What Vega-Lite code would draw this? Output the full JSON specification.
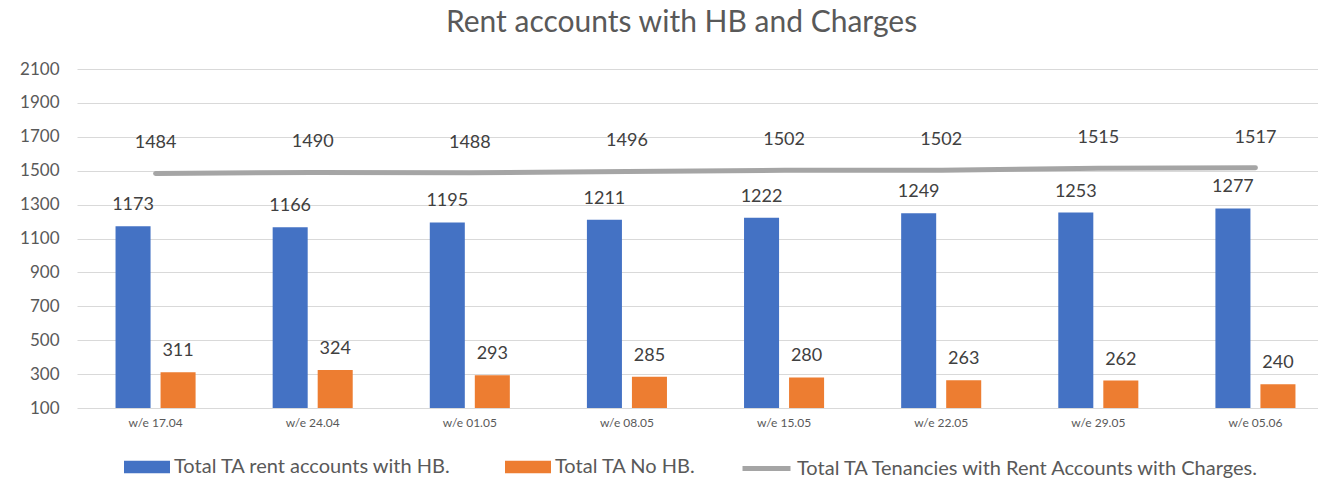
{
  "$schema": "https://vega.github.io/schema/vega-lite/v6.json",
  "width": 1241,
  "height": 339,
  "autosize": {"type": "none"},
  "padding": {"left": 77, "top": 69, "right": 0, "bottom": 72},
  "title": {"text": "Rent accounts with HB and Charges", "fontSize": 30, "font": "Lato", "fontWeight": "normal", "color": "#595959", "anchor": "middle", "dx": -16, "offset": -8, "baseline": "bottom"},
  "config": {"font": "Lato", "view": {"stroke": null}},
  "data": {"values": [
    {"week": "w/e 17.04", "series": "Total TA rent accounts  with HB.", "value": 1173},
    {"week": "w/e 24.04", "series": "Total TA rent accounts  with HB.", "value": 1166},
    {"week": "w/e 01.05", "series": "Total TA rent accounts  with HB.", "value": 1195},
    {"week": "w/e 08.05", "series": "Total TA rent accounts  with HB.", "value": 1211},
    {"week": "w/e 15.05", "series": "Total TA rent accounts  with HB.", "value": 1222},
    {"week": "w/e 22.05", "series": "Total TA rent accounts  with HB.", "value": 1249},
    {"week": "w/e 29.05", "series": "Total TA rent accounts  with HB.", "value": 1253},
    {"week": "w/e 05.06", "series": "Total TA rent accounts  with HB.", "value": 1277},
    {"week": "w/e 17.04", "series": "Total TA No HB.", "value": 311},
    {"week": "w/e 24.04", "series": "Total TA No HB.", "value": 324},
    {"week": "w/e 01.05", "series": "Total TA No HB.", "value": 293},
    {"week": "w/e 08.05", "series": "Total TA No HB.", "value": 285},
    {"week": "w/e 15.05", "series": "Total TA No HB.", "value": 280},
    {"week": "w/e 22.05", "series": "Total TA No HB.", "value": 263},
    {"week": "w/e 29.05", "series": "Total TA No HB.", "value": 262},
    {"week": "w/e 05.06", "series": "Total TA No HB.", "value": 240},
    {"week": "w/e 17.04", "series": "Total TA Tenancies with Rent Accounts with Charges.", "value": 1484},
    {"week": "w/e 24.04", "series": "Total TA Tenancies with Rent Accounts with Charges.", "value": 1490},
    {"week": "w/e 01.05", "series": "Total TA Tenancies with Rent Accounts with Charges.", "value": 1488},
    {"week": "w/e 08.05", "series": "Total TA Tenancies with Rent Accounts with Charges.", "value": 1496},
    {"week": "w/e 15.05", "series": "Total TA Tenancies with Rent Accounts with Charges.", "value": 1502},
    {"week": "w/e 22.05", "series": "Total TA Tenancies with Rent Accounts with Charges.", "value": 1502},
    {"week": "w/e 29.05", "series": "Total TA Tenancies with Rent Accounts with Charges.", "value": 1515},
    {"week": "w/e 05.06", "series": "Total TA Tenancies with Rent Accounts with Charges.", "value": 1517}
  ]},
  "encoding": {
    "x": {"field": "week", "type": "nominal", "sort": null,
      "scale": {"range": [0, 1257], "paddingInner": 0, "paddingOuter": 0},
      "axis": {"title": null, "domain": false, "ticks": false, "labelAngle": 0, "labelFontSize": 12, "labelColor": "#595959", "labelPadding": 9, "labelFont": "Lato"}},
    "y": {"field": "value", "type": "quantitative",
      "scale": {"domain": [100, 2100], "zero": false, "nice": false},
      "axis": {"title": null, "format": "d", "values": [100, 300, 500, 700, 900, 1100, 1300, 1500, 1700, 1900, 2100], "domain": false, "ticks": false, "labelFontSize": 17, "labelColor": "#595959", "labelPadding": 18, "gridColor": "#D9D9D9", "labelFont": "Lato"}}
  },
  "layer": [
    {
      "transform": [{"filter": "datum.series !== 'Total TA Tenancies with Rent Accounts with Charges.'"}],
      "encoding": {
        "xOffset": {"field": "series", "type": "nominal", "sort": null,
          "scale": {"domain": ["Total TA rent accounts  with HB.", "Total TA No HB."], "paddingInner": 0.222, "paddingOuter": 0.856}}
      },
      "layer": [
        {"mark": {"type": "bar"},
         "encoding": {
           "y2": {"datum": 100},
           "fill": {"field": "series", "type": "nominal",
           "scale": {"domain": ["Total TA rent accounts  with HB.", "Total TA No HB."], "range": ["#4472C4", "#ED7D31"]},
           "legend": {"title": null, "orient": "none", "legendX": 47, "legendY": 375, "direction": "horizontal", "symbolType": "M-1,-0.27H1V0.27H-1Z", "symbolSize": 2116, "symbolStrokeWidth": 0, "labelFontSize": 20, "labelColor": "#595959", "labelFont": "Lato", "labelLimit": 0, "columnPadding": 48, "labelOffset": 4}}}},
        {"mark": {"type": "text", "dy": -21, "fontSize": 18, "color": "#404040", "font": "Lato"},
         "encoding": {"text": {"field": "value", "type": "quantitative"}}}
      ]
    },
    {
      "transform": [{"filter": "datum.series === 'Total TA Tenancies with Rent Accounts with Charges.'"}],
      "layer": [
        {"mark": {"type": "line", "strokeWidth": 5, "strokeCap": "round"},
         "encoding": {"stroke": {"field": "series", "type": "nominal",
           "scale": {"range": ["#A5A5A5"]},
           "legend": {"title": null, "orient": "none", "legendX": 663, "legendY": 373, "symbolType": "stroke", "symbolSize": 2304, "symbolStrokeWidth": 5, "labelFontSize": 20, "labelColor": "#595959", "labelFont": "Lato", "labelLimit": 0, "labelOffset": 4}}}},
        {"mark": {"type": "text", "dy": -30, "fontSize": 18, "color": "#404040", "font": "Lato"},
         "encoding": {"text": {"field": "value", "type": "quantitative"}}}
      ]
    }
  ]
}
